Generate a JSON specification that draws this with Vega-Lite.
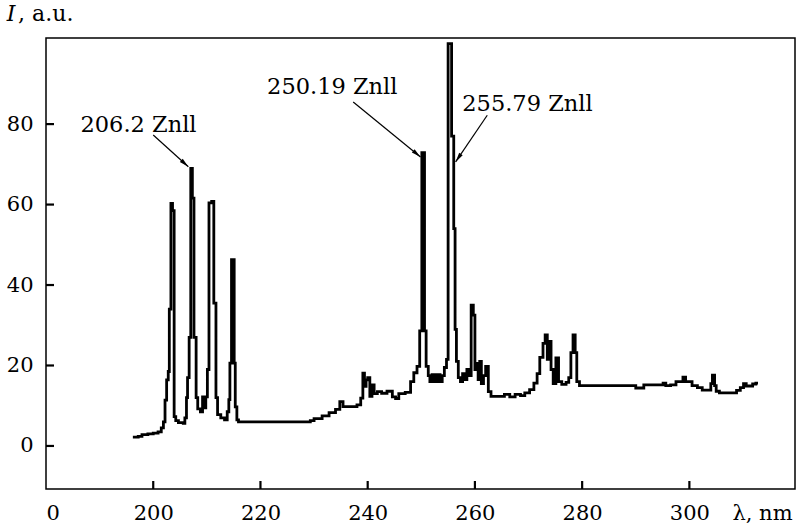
{
  "$schema": "https://vega.github.io/schema/vega-lite/v6.json",
  "width": 749,
  "height": 451,
  "autosize": {"type": "none"},
  "padding": {"left": 46, "top": 38, "right": 6, "bottom": 39},
  "background": "white",
  "config": {
    "font": "DejaVu Serif",
    "view": {"stroke": "black", "strokeWidth": 1.5},
    "axis": {
      "grid": false,
      "domain": false,
      "ticks": false,
      "labelColor": "black",
      "labelFont": "DejaVu Serif",
      "labelFontSize": 21,
      "labelPadding": 13,
      "titleColor": "black",
      "titleFont": "DejaVu Serif"
    }
  },
  "datasets": {
    "spectrum": [
      {"nm": 196.2, "I": 2.2}, {"nm": 197.2, "I": 2.4}, {"nm": 197.9, "I": 2.8}, {"nm": 199.0, "I": 3.0},
      {"nm": 200.0, "I": 3.2}, {"nm": 200.9, "I": 3.5}, {"nm": 201.5, "I": 4.5}, {"nm": 201.9, "I": 6.0},
      {"nm": 202.2, "I": 11.4}, {"nm": 202.5, "I": 16.4}, {"nm": 202.8, "I": 18.5}, {"nm": 203.0, "I": 34},
      {"nm": 203.3, "I": 60.3}, {"nm": 203.6, "I": 58.5}, {"nm": 203.9, "I": 7.3}, {"nm": 204.2, "I": 6.3},
      {"nm": 204.7, "I": 5.8}, {"nm": 205.6, "I": 5.6}, {"nm": 205.9, "I": 7}, {"nm": 206.2, "I": 12},
      {"nm": 206.4, "I": 17}, {"nm": 206.7, "I": 27}, {"nm": 207.0, "I": 69}, {"nm": 207.3, "I": 61.6},
      {"nm": 207.6, "I": 27}, {"nm": 208.0, "I": 12}, {"nm": 208.3, "I": 9.2}, {"nm": 208.8, "I": 8.5},
      {"nm": 209.2, "I": 12.2}, {"nm": 209.5, "I": 9.5}, {"nm": 209.8, "I": 12.2}, {"nm": 210.1, "I": 19},
      {"nm": 210.4, "I": 60.4}, {"nm": 210.9, "I": 60.8}, {"nm": 211.3, "I": 35.5}, {"nm": 211.7, "I": 12},
      {"nm": 212.0, "I": 7.8}, {"nm": 212.6, "I": 7}, {"nm": 213.3, "I": 6.5}, {"nm": 213.8, "I": 8.5},
      {"nm": 214.1, "I": 11.5}, {"nm": 214.3, "I": 20.6}, {"nm": 214.6, "I": 46.3}, {"nm": 215.1, "I": 20.6},
      {"nm": 215.3, "I": 9.7}, {"nm": 215.6, "I": 6.5}, {"nm": 215.9, "I": 6.0}, {"nm": 229.3, "I": 6.3},
      {"nm": 230.0, "I": 6.8}, {"nm": 231.5, "I": 7.5}, {"nm": 232.8, "I": 8.3}, {"nm": 234.0, "I": 9.1},
      {"nm": 234.8, "I": 11}, {"nm": 235.4, "I": 9.8}, {"nm": 238.0, "I": 10.2}, {"nm": 238.7, "I": 11.9},
      {"nm": 239.1, "I": 18.1}, {"nm": 239.4, "I": 14.8}, {"nm": 239.7, "I": 16.4}, {"nm": 240.0, "I": 17},
      {"nm": 240.4, "I": 12.3}, {"nm": 240.8, "I": 15.2}, {"nm": 241.2, "I": 13}, {"nm": 241.8, "I": 13.5},
      {"nm": 242.6, "I": 13.1}, {"nm": 243.6, "I": 13.6}, {"nm": 244.6, "I": 12.2}, {"nm": 245.2, "I": 11.8},
      {"nm": 245.8, "I": 13}, {"nm": 247.0, "I": 13.3}, {"nm": 248.0, "I": 16}, {"nm": 248.6, "I": 18.2},
      {"nm": 249.2, "I": 19.8}, {"nm": 249.7, "I": 28.6}, {"nm": 250.1, "I": 72.9}, {"nm": 250.6, "I": 28.6},
      {"nm": 250.9, "I": 19.8}, {"nm": 251.3, "I": 17.5}, {"nm": 251.6, "I": 16}, {"nm": 252.0, "I": 17.7},
      {"nm": 252.5, "I": 16}, {"nm": 253.0, "I": 17.7}, {"nm": 253.5, "I": 16}, {"nm": 253.9, "I": 17.5},
      {"nm": 254.3, "I": 19.5}, {"nm": 254.7, "I": 21.5}, {"nm": 255.0, "I": 100}, {"nm": 255.65, "I": 77},
      {"nm": 256.05, "I": 54}, {"nm": 256.3, "I": 29}, {"nm": 256.55, "I": 21}, {"nm": 256.9, "I": 17},
      {"nm": 257.3, "I": 16}, {"nm": 257.7, "I": 18}, {"nm": 258.1, "I": 16.5}, {"nm": 258.5, "I": 19},
      {"nm": 258.9, "I": 17.5}, {"nm": 259.3, "I": 35}, {"nm": 259.7, "I": 32.5}, {"nm": 260.0, "I": 19},
      {"nm": 260.3, "I": 20.5}, {"nm": 260.6, "I": 16.5}, {"nm": 260.9, "I": 21}, {"nm": 261.2, "I": 15.5},
      {"nm": 261.6, "I": 17.5}, {"nm": 262.0, "I": 19.8}, {"nm": 262.5, "I": 13.5}, {"nm": 263.0, "I": 12.3},
      {"nm": 264.5, "I": 12.3}, {"nm": 265.5, "I": 12.8}, {"nm": 266.5, "I": 12.2}, {"nm": 267.5, "I": 12.8},
      {"nm": 268.5, "I": 12.5}, {"nm": 269.3, "I": 13.2}, {"nm": 270.2, "I": 14}, {"nm": 271.0, "I": 15.6},
      {"nm": 271.6, "I": 18}, {"nm": 272.1, "I": 22}, {"nm": 272.7, "I": 25.5}, {"nm": 273.1, "I": 27.6},
      {"nm": 273.5, "I": 21.5}, {"nm": 273.8, "I": 26}, {"nm": 274.2, "I": 19}, {"nm": 274.6, "I": 15.5},
      {"nm": 275.1, "I": 21.9}, {"nm": 275.6, "I": 16}, {"nm": 276.2, "I": 15.3}, {"nm": 277.0, "I": 15.8},
      {"nm": 277.5, "I": 17}, {"nm": 277.9, "I": 23.2}, {"nm": 278.3, "I": 27.6}, {"nm": 278.7, "I": 23.2},
      {"nm": 279.0, "I": 16}, {"nm": 279.5, "I": 15}, {"nm": 290.0, "I": 14.4}, {"nm": 291.5, "I": 15.2},
      {"nm": 295.1, "I": 15.6}, {"nm": 295.6, "I": 15}, {"nm": 296.5, "I": 15.2}, {"nm": 297.5, "I": 16},
      {"nm": 298.8, "I": 17.1}, {"nm": 299.3, "I": 16}, {"nm": 300.5, "I": 15}, {"nm": 301.5, "I": 14.5},
      {"nm": 302.4, "I": 13.9}, {"nm": 304.0, "I": 15.5}, {"nm": 304.3, "I": 17.6}, {"nm": 304.7, "I": 15},
      {"nm": 305.0, "I": 13.6}, {"nm": 305.6, "I": 13.2}, {"nm": 308.8, "I": 13.8}, {"nm": 309.5, "I": 14.5},
      {"nm": 310.1, "I": 15.5}, {"nm": 310.6, "I": 14.9}, {"nm": 311.8, "I": 15.4}, {"nm": 312.4, "I": 15.6},
      {"nm": 312.8, "I": 15.6}
    ],
    "lines": [
      {"label": "206.2 Znll", "nm": 206.55, "I": 69.4, "tailNm": 200.0, "tailI": 77.3, "labelNm": 197.25, "labelI": 78.1},
      {"label": "250.19 Znll", "nm": 249.85, "I": 71.8, "tailNm": 237.3, "tailI": 85.5, "labelNm": 233.4, "labelI": 87.6},
      {"label": "255.79 Znll", "nm": 256.4, "I": 70.6, "tailNm": 262.3, "tailI": 82.2, "labelNm": 269.8, "labelI": 83.3}
    ],
    "xTicks": [{"nm": 200}, {"nm": 220}, {"nm": 240}, {"nm": 260}, {"nm": 280}, {"nm": 300}],
    "yTicks": [{"I": 0}, {"I": 20}, {"I": 40}, {"I": 60}, {"I": 80}]
  },
  "layer": [
    {
      "data": {"name": "spectrum"},
      "mark": {"type": "line", "interpolate": "step-after", "color": "black", "strokeWidth": 2.8},
      "encoding": {
        "x": {
          "field": "nm",
          "type": "quantitative",
          "scale": {"domain": [180, 319.7], "nice": false, "zero": false},
          "axis": {
            "values": [180, 200, 220, 240, 260, 280, 300],
            "labelExpr": "datum.value == 180 ? '0' : datum.label",
            "labelAlign": {"condition": {"test": "datum.value == 180", "value": "left"}, "value": "center"},
            "labelFlush": false,
            "title": "λ, nm",
            "titleFontSize": 21,
            "titleFontWeight": "normal",
            "titleAlign": "center",
            "titleBaseline": "alphabetic",
            "titleX": 716,
            "titleY": 30
          }
        },
        "y": {
          "field": "I",
          "type": "quantitative",
          "scale": {"domain": [-10.7, 101.4], "nice": false, "zero": false},
          "axis": {
            "values": [0, 20, 40, 60, 80],
            "title": null
          }
        }
      }
    },
    {
      "data": {"name": "xTicks"},
      "mark": {"type": "rule", "color": "black", "strokeWidth": 2.2},
      "encoding": {
        "x": {"field": "nm", "type": "quantitative"},
        "y": {"datum": -10.7, "type": "quantitative"},
        "y2": {"datum": -8.71}
      }
    },
    {
      "data": {"name": "yTicks"},
      "mark": {"type": "rule", "color": "black", "strokeWidth": 2.2},
      "encoding": {
        "y": {"field": "I", "type": "quantitative"},
        "x": {"datum": 180, "type": "quantitative"},
        "x2": {"datum": 181.49}
      }
    },
    {
      "data": {"name": "lines"},
      "mark": {"type": "rule", "color": "black", "strokeWidth": 1.2},
      "encoding": {
        "x": {"field": "tailNm", "type": "quantitative"},
        "y": {"field": "tailI", "type": "quantitative"},
        "x2": {"field": "nm"},
        "y2": {"field": "I"}
      }
    },
    {
      "data": {"name": "lines"},
      "transform": [{"filter": "datum.label == '206.2 Znll'"}],
      "mark": {"type": "point", "shape": "M0,0L0.45,2L-0.45,2Z", "filled": true, "color": "black", "opacity": 1, "size": 90, "angle": 132},
      "encoding": {
        "x": {"field": "nm", "type": "quantitative"},
        "y": {"field": "I", "type": "quantitative"}
      }
    },
    {
      "data": {"name": "lines"},
      "transform": [{"filter": "datum.label == '250.19 Znll'"}],
      "mark": {"type": "point", "shape": "M0,0L0.45,2L-0.45,2Z", "filled": true, "color": "black", "opacity": 1, "size": 90, "angle": 130},
      "encoding": {
        "x": {"field": "nm", "type": "quantitative"},
        "y": {"field": "I", "type": "quantitative"}
      }
    },
    {
      "data": {"name": "lines"},
      "transform": [{"filter": "datum.label == '255.79 Znll'"}],
      "mark": {"type": "point", "shape": "M0,0L0.45,2L-0.45,2Z", "filled": true, "color": "black", "opacity": 1, "size": 90, "angle": 214},
      "encoding": {
        "x": {"field": "nm", "type": "quantitative"},
        "y": {"field": "I", "type": "quantitative"}
      }
    },
    {
      "data": {"name": "lines"},
      "mark": {"type": "text", "align": "center", "baseline": "alphabetic", "fontSize": 22.5, "color": "black"},
      "encoding": {
        "x": {"field": "labelNm", "type": "quantitative"},
        "y": {"field": "labelI", "type": "quantitative"},
        "text": {"field": "label"}
      }
    },
    {
      "data": {"values": [{"name": "I"}]},
      "mark": {"type": "text", "align": "left", "baseline": "alphabetic", "fontSize": 22, "fontStyle": "italic", "color": "black"},
      "encoding": {
        "x": {"datum": 172.7, "type": "quantitative"},
        "y": {"datum": 105.7, "type": "quantitative"},
        "text": {"field": "name"}
      }
    },
    {
      "data": {"values": [{"unit": ", a.u."}]},
      "mark": {"type": "text", "align": "left", "baseline": "alphabetic", "fontSize": 22, "color": "black"},
      "encoding": {
        "x": {"datum": 174.8, "type": "quantitative"},
        "y": {"datum": 105.7, "type": "quantitative"},
        "text": {"field": "unit"}
      }
    }
  ]
}
